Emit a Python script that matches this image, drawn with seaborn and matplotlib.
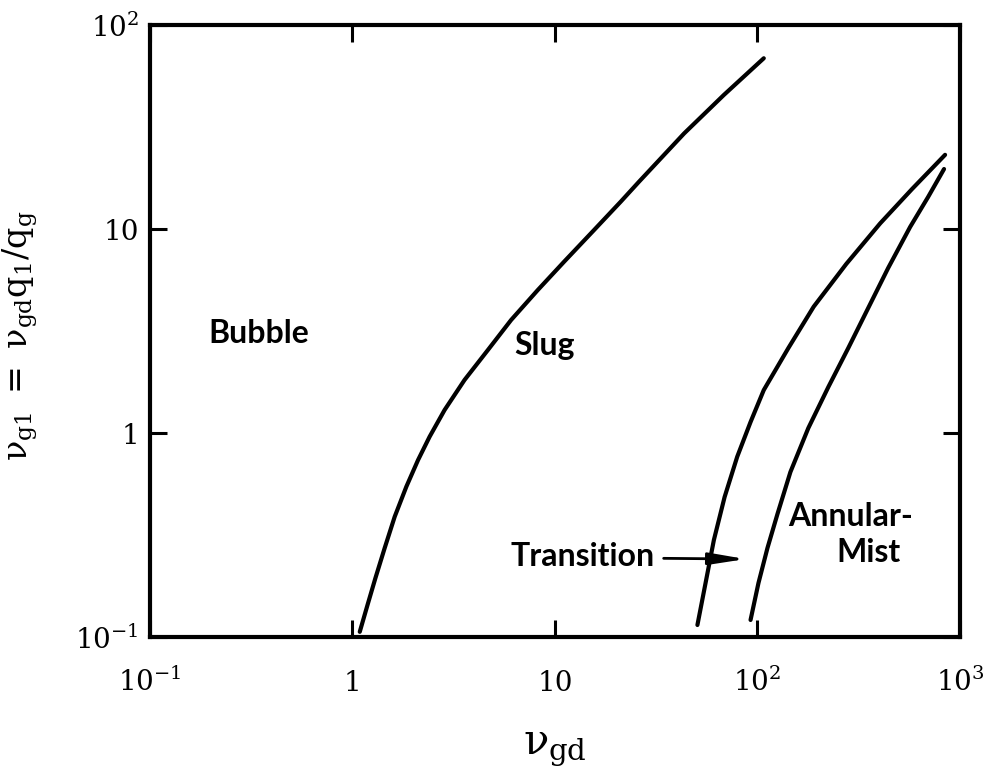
import matplotlib
matplotlib.use("Agg")
import matplotlib.pyplot as plt
import seaborn as sns

# ── data (log-log flow regime map) ────────────────────────────────────────
slug_x = [1.086, 1.186, 1.298, 1.442, 1.616, 1.845, 2.107, 2.403, 2.85, 3.575,
          4.66, 6.07, 8.22, 11.1, 15.6, 21.1, 26.0, 43.4, 68.2, 107.4]
slug_y = [0.106, 0.1435, 0.1946, 0.2731, 0.389, 0.546, 0.737, 0.959, 1.297, 1.82,
          2.55, 3.58, 5.02, 6.92, 9.89, 13.6, 17.06, 29.4, 45.4, 68.7]

trans_x = [50.5, 55.4, 60.9, 68.8, 79.4, 92.4, 107.4, 142.1, 189.4, 274.4,
           403.6, 580, 844]
trans_y = [0.1145, 0.1839, 0.2989, 0.4856, 0.765, 1.132, 1.624, 2.61, 4.16,
           6.74, 10.66, 15.71, 23.1]

mist_x = [92.4, 101.1, 112.0, 125.5, 145.4, 178.3, 223.8, 280.8, 348.3, 441.9,
          567.1, 695.8, 834]
mist_y = [0.1212, 0.1839, 0.2731, 0.4009, 0.644, 1.058, 1.681, 2.61, 4.01, 6.44,
          10.23, 14.35, 19.68]

xticks = [0.1, 1, 10, 100, 1000]
xtick_labels = [r"$10^{-1}$", "1", "10", r"$10^{2}$", r"$10^{3}$"]
yticks = [0.1, 1, 10, 100]
ytick_labels = [r"$10^{-1}$", "1", "10", r"$10^{2}$"]

sns.set_style("ticks")
plt.rcParams["mathtext.fontset"] = "custom"
plt.rcParams["mathtext.rm"] = "DejaVu Serif"
plt.rcParams["mathtext.it"] = "DejaVu Serif"
plt.rcParams["mathtext.bf"] = "DejaVu Serif:bold"
plt.rcParams["font.family"] = ["DejaVu Serif"]
plt.rcParams["text.color"] = "black"
plt.rcParams["axes.labelcolor"] = "black"

fig = plt.figure(figsize=(9.95, 7.83), dpi=100)
ax = fig.add_axes([150 / 995, 1 - 637 / 783, 810 / 995, 612 / 783])

for xs, ys in [(slug_x, slug_y), (trans_x, trans_y), (mist_x, mist_y)]:
    sns.lineplot(x=xs, y=ys, ax=ax, color="black", linewidth=3,
                 sort=False, estimator=None, solid_capstyle="round")

ax.set_xscale("log")
ax.set_yscale("log")
ax.set_xlim(0.1, 1000)
ax.set_ylim(0.1, 100)
ax.set_xticks(xticks)
ax.set_xticklabels(xtick_labels, va="baseline")
ax.set_yticks(yticks)
ax.set_yticklabels(ytick_labels)
ax.minorticks_off()
ax.tick_params(which="major", direction="in", length=12, width=2.2,
               top=True, right=True, labelsize=20, color="black",
               labelcolor="black")
ax.tick_params(axis="x", pad=39)
ax.tick_params(axis="y", pad=8)

for sp in ax.spines.values():
    sp.set_linewidth(3)
    sp.set_color("black")
    sp.set_visible(True)

# region labels
lab = dict(fontsize=23, fontweight="bold", family=["Lato", "DejaVu Sans"],
           color="black", ha="center", va="center")
ax.text(0.344, 3.09, "Bubble", **lab)
ax.text(8.93, 2.70, "Slug", **lab)
ax.text(13.7, 0.247, "Transition", **lab)
ax.text(287, 0.388, "Annular-", **lab)
ax.text(352, 0.261, "Mist", **lab)
ax.annotate("", xy=(87.3, 0.241), xytext=(34.4, 0.243),
            arrowprops=dict(arrowstyle="-|>,head_length=1.1,head_width=0.18",
                            color="black", lw=2, mutation_scale=20,
                            shrinkA=0, shrinkB=0))

ax.set_xlabel(r"$\nu_{\mathrm{gd}}$", fontsize=30)
ax.xaxis.set_label_coords(0.5, -0.145)
ax.set_ylabel(r"$\nu_{\mathrm{g1}}\ =\ \nu_{\mathrm{gd}}\mathrm{q}_{1}/\mathrm{q}_{\mathrm{g}}$",
              fontsize=24)
ax.yaxis.set_label_coords(-0.136, 0.493)

plt.savefig("out.png", dpi=100)
